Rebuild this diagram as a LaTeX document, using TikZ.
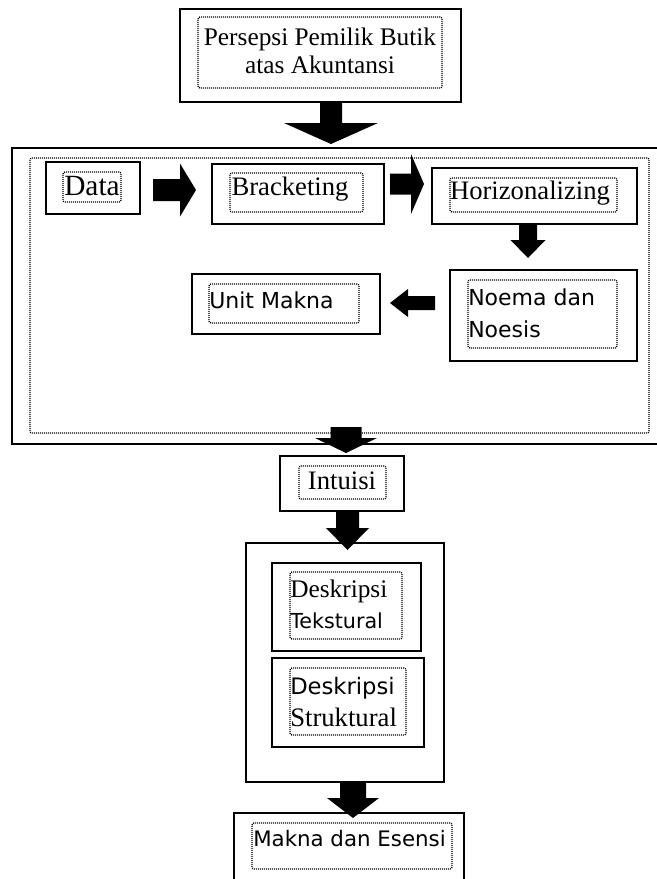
\documentclass[tikz,border=0pt]{standalone}
\usepackage{fontspec}
\setmainfont{Liberation Serif}
\newfontfamily\tahoma{DejaVu Sans}
\usetikzlibrary{fit}
% block arrows: down {cx}{y0}{sw}{y1}{hw}{tip}
\newcommand{\blkdown}[6]{\fill[blk] (#1-#3,#2) -- (#1+#3,#2) -- (#1+#3,#4) -- (#1+#5,#4) -- (#1,#6) -- (#1-#5,#4) -- (#1-#3,#4) -- cycle;}
% right/left {cy}{x0}{sw}{x1}{hw}{tip}
\newcommand{\blkhoriz}[6]{\fill[blk] (#2,#1-#3) -- (#4,#1-#3) -- (#4,#1-#5) -- (#6,#1) -- (#4,#1+#5) -- (#4,#1+#3) -- (#2,#1+#3) -- cycle;}
\begin{document}
\begin{tikzpicture}[x=0.75pt,y=-0.75pt,
  solidbox/.style={draw=black, line width=1.1pt, inner sep=0pt},
  dotbox/.style={draw=black, line width=1pt, dash pattern=on 0.75pt off 0.75pt, rounded corners=1.5pt, inner sep=0pt},
  blk/.style={fill=black},
  serif/.style={inner sep=0pt, font=\fontsize{#1}{#1}\selectfont},
  sans/.style={inner sep=0pt, font=\tahoma\fontsize{#1}{#1}\selectfont}]
\useasboundingbox[fill=white] (0,0) rectangle (657,879);

% top box
\node[solidbox, fit={(180,9) (461,102)}] (top) {};
\node[dotbox, fit={(198,17) (442,88)}] (topd) {};
\node[serif=19pt, align=center, font=\fontsize{19pt}{21pt}\selectfont] (toptxt) at (320,51) {Persepsi Pemilik Butik\\atas Akuntansi};

% big frame
\node[solidbox, fit={(12,148) (672,444)}] (frame) {};
\node[dotbox, fit={(30,158) (649,433)}] (framed) {};

% Data
\node[solidbox, fit={(46,162) (140,214)}] (data) {};
\node[dotbox, fit={(63,172) (121,202)}] (datad) {};
\node[serif=22pt] (datat) at (92,186) {Data};

% Bracketing
\node[solidbox, fit={(212,164) (384,224)}] (brack) {};
\node[dotbox, fit={(230,173) (363,212)}] (brackd) {};
\node[serif=20pt] (brackt) at (290,189) {Bracketing};

% Horizonalizing
\node[solidbox, fit={(432,168) (637,224)}] (horiz) {};
\node[dotbox, fit={(450,178) (617,212)}] (horizd) {};
\node[serif=20pt] (horizt) at (530,193) {Horizonalizing};

% Noema dan Noesis
\node[solidbox, fit={(450,270) (637,361)}] (noema) {};
\node[dotbox, fit={(468,280) (617,348)}] (noemad) {};
\node[sans=16.5pt, anchor=west] (noemat1) at (468,297) {Noema dan};
\node[sans=16.5pt, anchor=west] (noemat2) at (468,329) {Noesis};

% Unit Makna
\node[solidbox, fit={(192,274) (380,334)}] (unit) {};
\node[dotbox, fit={(209,284) (359,323)}] (unitd) {};
\node[sans=16.5pt, anchor=west] (unitt) at (209,300) {Unit Makna};

% Intuisi
\node[solidbox, fit={(280,456) (404,511)}] (intu) {};
\node[dotbox, fit={(299,466) (386,499)}] (intud) {};
\node[serif=20pt] (intut) at (342,481) {Intuisi};

% Deskripsi frame
\node[solidbox, fit={(246,543) (444,782)}] (desk) {};
\node[solidbox, fit={(272,563) (421,651)}] (tek) {};
\node[dotbox, fit={(290,572) (402,639)}] (tekd) {};
\node[serif=19pt, anchor=west] (tekt1) at (290,591) {Deskripsi};
\node[sans=15.5pt, anchor=west] (tekt2) at (290,621) {Tekstural};
\node[solidbox, fit={(272,658) (424,747)}] (str) {};
\node[dotbox, fit={(290,668) (406,735)}] (strd) {};
\node[sans=17pt, anchor=west] (strt1) at (290,688) {Deskripsi};
\node[serif=20pt, anchor=west] (strt2) at (290,717) {Struktural};

% Makna dan Esensi
\node[solidbox, fit={(234,813) (464,895)}] (makna) {};
\node[dotbox, fit={(252,823) (452,869)}] (maknad) {};
\node[sans=16pt, anchor=west] (maknat) at (253,839) {Makna dan Esensi};

% block arrows
\blkdown{331}{102}{11}{123}{47}{144}
\blkhoriz{190}{153}{11}{180}{26.5}{196}
\blkhoriz{184}{390}{10.5}{411}{30}{424}
\blkdown{528}{224}{9}{240}{17.5}{258}
\blkhoriz{303}{435}{7}{408}{14}{390}
\blkdown{346}{427}{15.5}{438}{31}{453}
\blkdown{347.5}{511}{11.5}{528}{21.5}{550}
\blkdown{353}{782}{13}{798}{26}{818}
\end{tikzpicture}
\end{document}
